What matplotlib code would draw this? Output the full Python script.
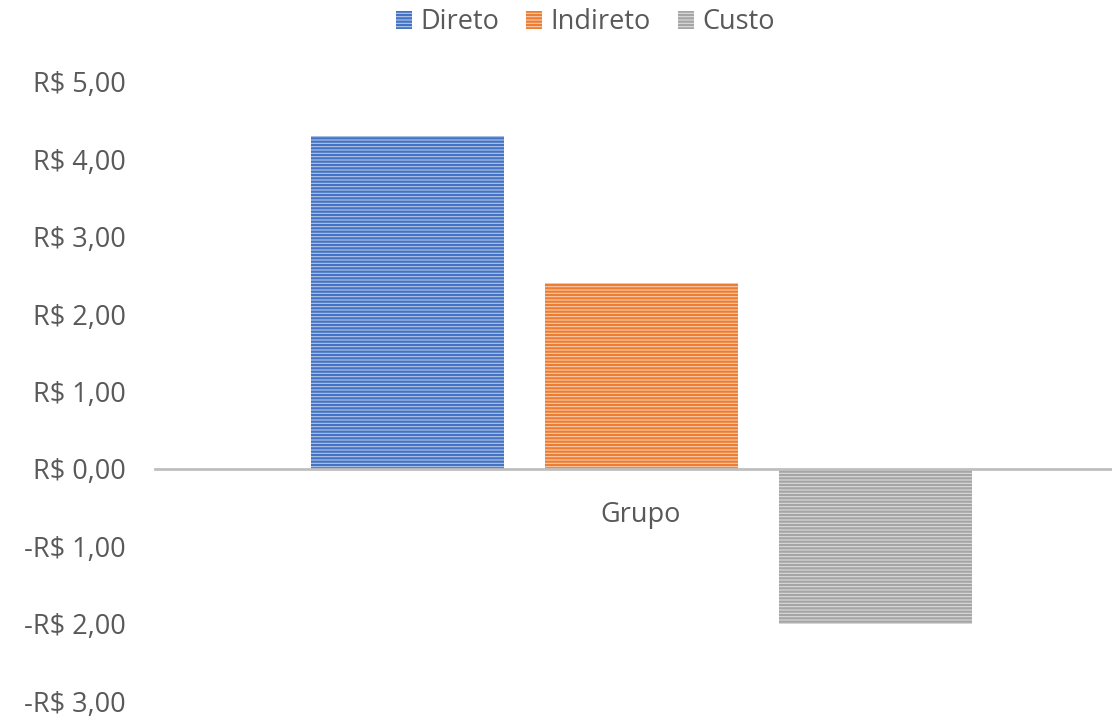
import matplotlib
matplotlib.use("Agg")
import matplotlib.pyplot as plt
import matplotlib as mpl

categories = ["Grupo"]
series_names = ["Direto", "Indireto", "Custo"]
series_values = [4.30, 2.40, -2.00]
edge_colors = ["#4472C4", "#ED7D31", "#A5A5A5"]
face_colors = ["#B4C7E7", "#F8CBAD", "#DBDBDB"]
y_ticks = [-3, -2, -1, 0, 1, 2, 3, 4, 5]

def fmt(v):
    s = "R$ {:.2f}".format(abs(v)).replace(".", ",")
    return "-" + s if v < 0 else s

plt.rcParams['font.family'] = ['Open Sans', 'DejaVu Sans']
mpl.rcParams['hatch.linewidth'] = 1.6

fig = plt.figure(figsize=(11.12, 7.22), dpi=100)
ax = fig.add_axes([155/1112, 21/722, 957/1112, 619/722])

width = 193/234
offsets = [-1, 0, 1]
handles = []
for name, v, ec, fc, off in zip(series_names, series_values, edge_colors, face_colors, offsets):
    mpl.rcParams['hatch.color'] = ec
    b = ax.bar(off, v, width=width, color=fc, hatch='-----', edgecolor=ec,
               linewidth=0, label=name, zorder=2)
    handles.append(b)

ax.set_ylim(-3, 5)
ax.set_xlim((155-641)/234, (1112-641)/234)
ax.set_yticks(y_ticks)
ax.set_yticklabels([fmt(v) for v in y_ticks], fontsize=19.5, color="#595959")
ax.tick_params(axis='y', length=0, pad=21)

for s in ['top', 'right', 'left']:
    ax.spines[s].set_visible(False)
ax.spines['bottom'].set_position(('data', 0))
ax.spines['bottom'].set_color('#BFBFBF')
ax.spines['bottom'].set_linewidth(2)
ax.spines['bottom'].set_zorder(3)
ax.set_xticks([0])
ax.set_xticklabels(categories, fontsize=19.5, color="#595959")
ax.tick_params(axis='x', length=0, pad=23)

leg = fig.legend(handles=handles, loc='upper center', bbox_to_anchor=(585/1112, 1.022),
                 ncol=3, frameon=False, fontsize=19.5, handlelength=0.6, handleheight=0.6,
                 handletextpad=0.3, columnspacing=1.0)
for t in leg.get_texts():
    t.set_color("#595959")

fig.savefig("out.png", dpi=100)
